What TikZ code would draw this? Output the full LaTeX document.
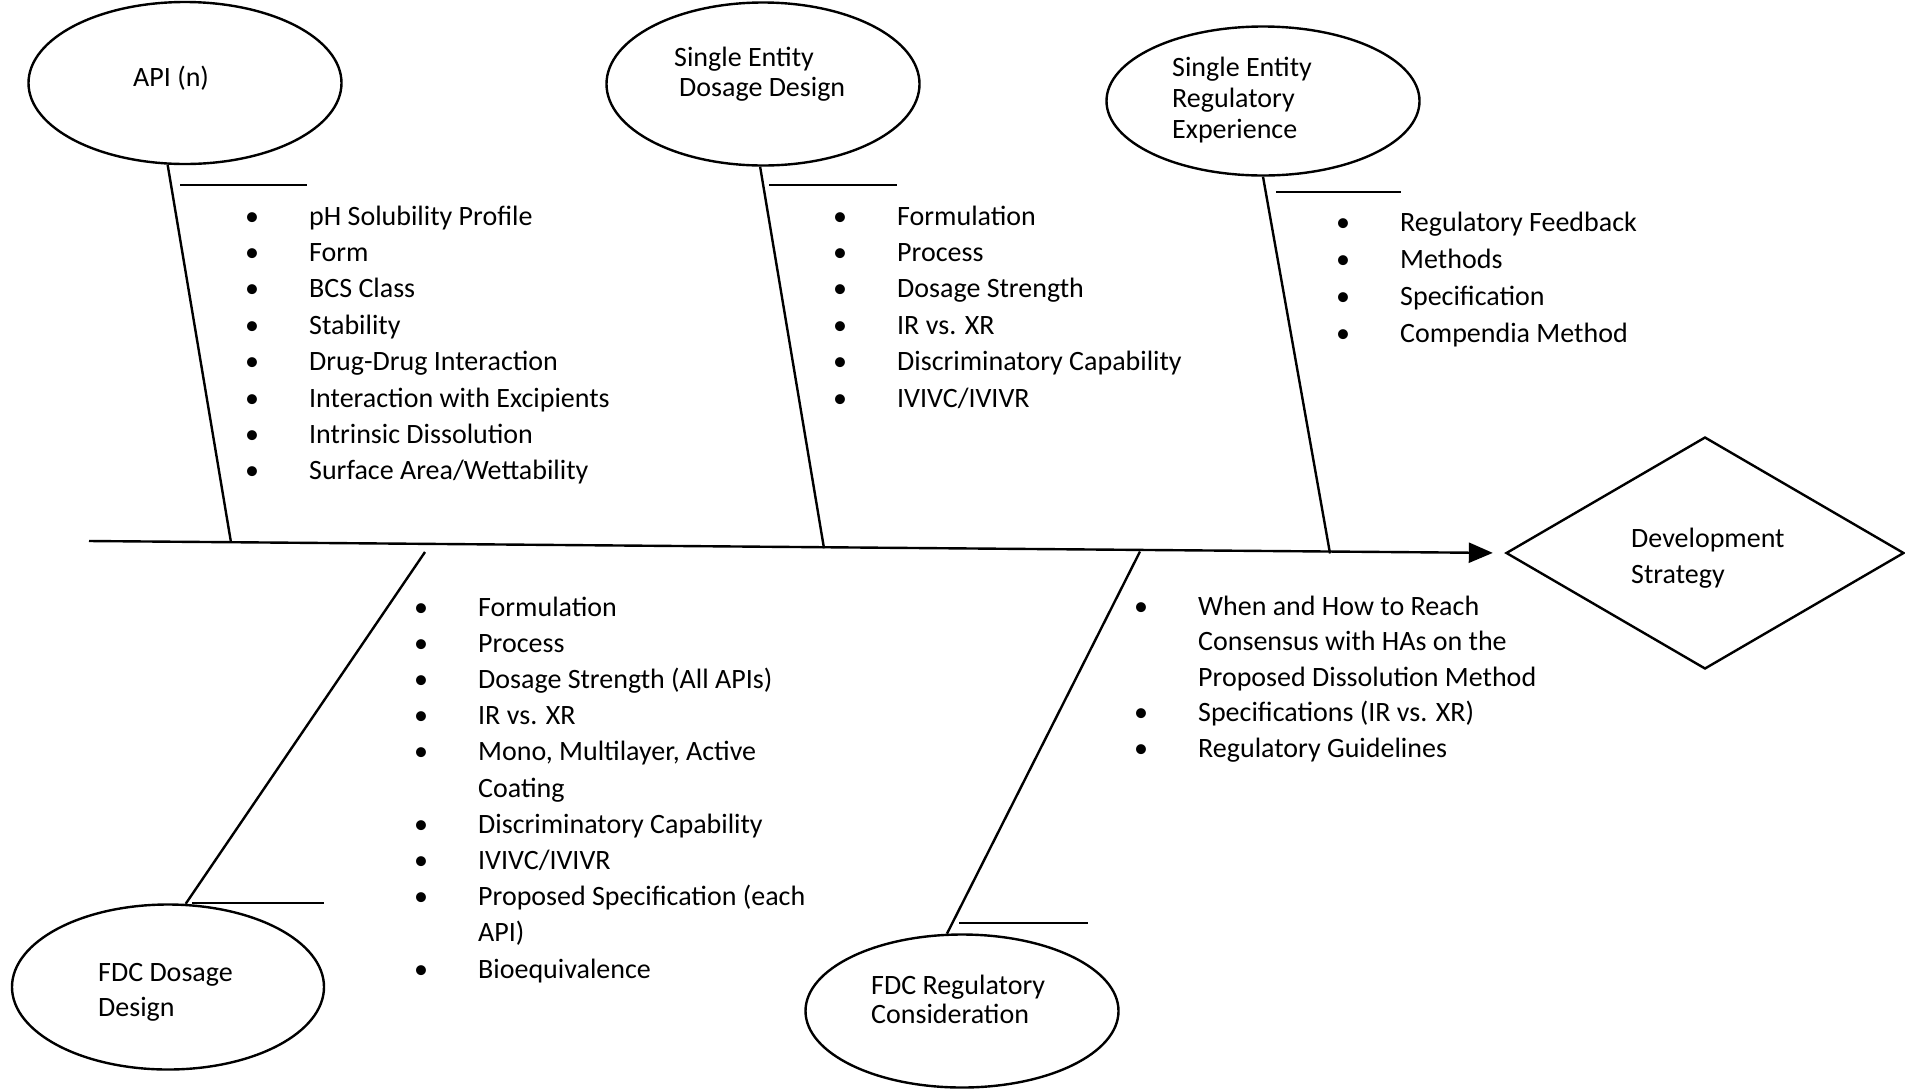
\documentclass[tikz,border=0pt]{standalone}
\usepackage{fontspec}
\setmainfont{Carlito}
\usetikzlibrary{shapes.geometric,arrows.meta}
\newcommand{\bli}{\llap{\makebox[0pt]{\textbullet}\hspace{57pt}}}
\begin{document}
\begin{tikzpicture}[x=1pt,y=-1pt,
  ln/.style={line width=2.4pt},
  oval/.style={draw, line width=2.4pt, ellipse, inner sep=0pt},
  lbl/.style={anchor=base west, inner sep=0pt, font=\fontsize{28}{34}\selectfont},
]
\fill[white] (0,0) rectangle (1905,1088);
\useasboundingbox (0,0) rectangle (1905,1088);

% ellipses
\node[oval, minimum width=313pt, minimum height=162pt] (api) at (185,83) {};
\node[oval, minimum width=313pt, minimum height=163pt] (sedd) at (763,84) {};
\node[oval, minimum width=313pt, minimum height=149pt] (sere) at (1263,101) {};
\node[oval, minimum width=312pt, minimum height=165pt] (fdcd) at (168,987) {};
\node[oval, minimum width=313pt, minimum height=153pt] (fdcr) at (962,1011) {};
\node[draw, diamond, line width=2.4pt, minimum width=398pt, minimum height=232pt, inner sep=0pt] (dev) at (1705,553) {};

% ellipse texts
\node[lbl] (apiT) at (133,86) {API (n)};
\node[lbl] (seddT1) at (674,66) {Single Entity};
\node[lbl] (seddT2) at (679,96) {Dosage Design};
\node[lbl] (sereT1) at (1172,76) {Single Entity};
\node[lbl] (sereT2) at (1172,107) {Regulatory};
\node[lbl] (sereT3) at (1172,138) {Experience};
\node[lbl] (devT1) at (1631,547) {Development};
\node[lbl] (devT2) at (1631,583) {Strategy};
\node[lbl] (fdcdT1) at (98,981) {FDC Dosage};
\node[lbl] (fdcdT2) at (98,1016) {Design};
\node[lbl] (fdcrT1) at (871,994) {FDC Regulatory};
\node[lbl] (fdcrT2) at (871,1023) {Consideration};

% spine
\coordinate (sL) at (89,541);
\draw[ln, -{Triangle[length=24pt,width=20pt]}, shorten >=12pt] (sL) -- (dev.west);

% joints on spine
\coordinate (jApi) at (231,542.4);
\coordinate (jSedd) at (824,548.3);
\coordinate (jSere) at (1330,553.4);
\coordinate (jFdcd) at (425,552);
\coordinate (jFdcr) at (1140,551.5);

% bones
\draw[ln] (api.258) -- (jApi);
\draw[ln] (sedd.268) -- (jSedd);
\draw[ln] (sere.south) -- (jSere);
\draw[ln] (fdcd.78) -- (jFdcd);
\draw[ln] (fdcr.101) -- (jFdcr);

% short horizontal strokes
\draw[ln] (180,185) -- (307,185);
\draw[ln] (769,185) -- (897,185);
\draw[ln] (1276,192) -- (1401,192);
\draw[ln] (192,903) -- (324,903);
\draw[ln] (959,923) -- (1088,923);

% lists
\foreach \t [count=\i] in {{\bli pH Solubility Profile},{\bli Form},{\bli BCS Class},{\bli Stability},{\bli Drug-Drug Interaction},{\bli Interaction with Excipients},{\bli Intrinsic Dissolution},{\bli Surface Area/Wettability}}
  \node[lbl] (apiL\i) at (309,{225+36.4*(\i-1)}) {\t};

\foreach \t [count=\i] in {{\bli Formulation},{\bli Process},{\bli Dosage Strength},{\bli IR vs. XR},{\bli Discriminatory Capability},{\bli IVIVC/IVIVR}}
  \node[lbl] (seddL\i) at (897,{225+36.4*(\i-1)}) {\t};

\foreach \t [count=\i] in {{\bli Regulatory Feedback},{\bli Methods},{\bli Specification},{\bli Compendia Method}}
  \node[lbl] (sereL\i) at (1400,{231+37*(\i-1)}) {\t};

\foreach \t [count=\i] in {{\bli Formulation},{\bli Process},{\bli Dosage Strength (All APIs)},{\bli IR vs. XR},{\bli Mono, Multilayer, Active},{Coating},{\bli Discriminatory Capability},{\bli IVIVC/IVIVR},{\bli Proposed Specification (each},{API)},{\bli Bioequivalence}}
  \node[lbl] (fdcdL\i) at (478,{616+36.2*(\i-1)}) {\t};

\foreach \t [count=\i] in {{\bli When and How to Reach},{Consensus with HAs on the},{Proposed Dissolution Method},{\bli Specifications (IR vs. XR)},{\bli Regulatory Guidelines}}
  \node[lbl] (fdcrL\i) at (1198,{615+35.5*(\i-1)}) {\t};
\end{tikzpicture}
\end{document}
